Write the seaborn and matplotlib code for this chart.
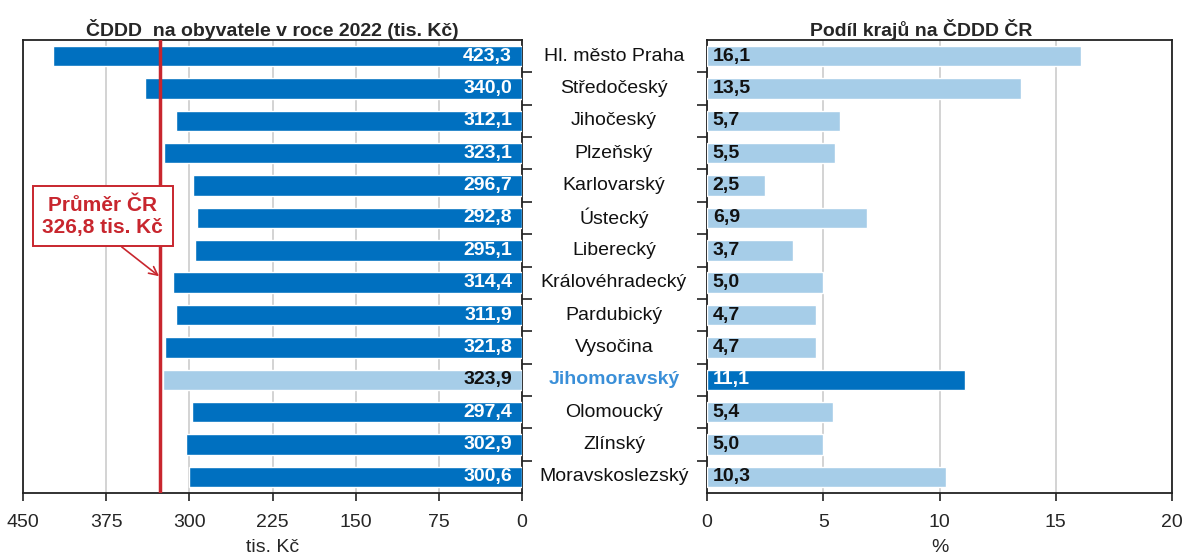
import matplotlib
matplotlib.use("Agg")
import matplotlib.pyplot as plt
import seaborn as sns
import pandas as pd

regions = ["Hl. město Praha", "Středočeský", "Jihočeský", "Plzeňský", "Karlovarský",
           "Ústecký", "Liberecký", "Královéhradecký", "Pardubický", "Vysočina",
           "Jihomoravský", "Olomoucký", "Zlínský", "Moravskoslezský"]
per_capita = [423.3, 340.0, 312.1, 323.1, 296.7, 292.8, 295.1, 314.4, 311.9, 321.8,
              323.9, 297.4, 302.9, 300.6]
share = [16.1, 13.5, 5.7, 5.5, 2.5, 6.9, 3.7, 5.0, 4.7, 4.7, 11.1, 5.4, 5.0, 10.3]
mean_cr = 326.8
highlight = "Jihomoravský"
left_ticks = [450, 375, 300, 225, 150, 75, 0]
right_ticks = [0, 5, 10, 15, 20]

DARK = "#0070C0"
LIGHT = "#A6CDE8"
RED = "#C8262E"

sns.set_theme(style="white")
plt.rcParams['font.family'] = ['Liberation Sans', 'DejaVu Sans']

df = pd.DataFrame({"region": regions, "per_capita": per_capita, "share": share})

fig = plt.figure(figsize=(11.88, 5.57), dpi=100)
axL = fig.add_axes([23/1188, 1-493/557, (522-23)/1188, 453/557])
axR = fig.add_axes([707/1188, 1-493/557, (1172-707)/1188, 453/557])

pal_left = {r: (LIGHT if r == highlight else DARK) for r in regions}
pal_right = {r: (DARK if r == highlight else LIGHT) for r in regions}

sns.barplot(data=df, x="per_capita", y="region", hue="region", palette=pal_left,
            orient="h", width=0.63, legend=False, ax=axL, zorder=3, saturation=1)
sns.barplot(data=df, x="share", y="region", hue="region", palette=pal_right,
            orient="h", width=0.63, legend=False, ax=axR, zorder=3, saturation=1)

for ax in (axL, axR):
    ax.set_ylabel("")
    for s in ax.spines.values():
        s.set_visible(True)
        s.set_color("#222222")
        s.set_linewidth(1.3)
    ax.grid(axis="x", color="#CCCCCC", linewidth=1.2, zorder=0)
    ax.set_axisbelow(True)
    ax.set_ylim(len(regions) - 0.5, -0.5)
    ax.tick_params(axis="x", direction="out", length=6, width=1.2, color="#222222",
                   labelsize=14, pad=9, bottom=True)

# Left axis
axL.set_xlim(450, 0)
axL.set_xticks(left_ticks)
axL.set_xticklabels([str(t) for t in left_ticks])
axL.set_xlabel("tis. Kč", fontsize=14, labelpad=6)
axL.yaxis.tick_right()
axL.set_yticks([i - 0.5 for i in range(1, len(regions))], minor=False)
axL.set_yticklabels([])
axL.tick_params(axis="y", direction="out", length=7, width=1.2, color="#222222", right=True, left=False)
axL.set_title("ČDDD  na obyvatele v roce 2022 (tis. Kč)", fontsize=14, fontweight="bold", pad=3)

# Right axis
axR.set_xlim(0, 20)
axR.set_xticks(right_ticks)
axR.set_xticklabels([str(t) for t in right_ticks])
axR.set_xlabel("%", fontsize=14, labelpad=6)
axR.set_yticks([i - 0.5 for i in range(1, len(regions))])
axR.set_yticklabels([])
axR.tick_params(axis="y", direction="out", length=7, width=1.2, color="#222222", left=True)
axR.set_title("Podíl krajů na ČDDD ČR", fontsize=14, fontweight="bold", pad=3, x=0.46)

# Value labels
for i, (v, s, r) in enumerate(zip(per_capita, share, regions)):
    axL.text(9, i, f"{v:.1f}".replace(".", ","), ha="right", va="center",
             color="#111111" if r == highlight else "white", fontsize=14,
             fontweight="bold", zorder=5)
    axR.text(0.25, i, f"{s:.1f}".replace(".", ","), ha="left", va="center",
             color="white" if r == highlight else "#111111", fontsize=14,
             fontweight="bold", zorder=5)

# Region names between axes
for i, r in enumerate(regions):
    x_fig = 614/1188
    y_disp = axL.transData.transform((0, i))[1]
    y_fig = fig.transFigure.inverted().transform((0, y_disp))[1]
    fig.text(x_fig, y_fig, r, ha="center", va="center", fontsize=14,
             color="#3A8FD8" if r == highlight else "#111111",
             fontweight="bold" if r == highlight else "normal")

# Mean line
axL.axvline(mean_cr, color=RED, linewidth=2.5, zorder=4)
axL.annotate("Průměr ČR\n326,8 tis. Kč", xy=(mean_cr + 0.5, 6.8), xytext=(378, 4.95),
             ha="center", va="center", fontsize=15, fontweight="bold", color=RED,
             linespacing=1.2,
             bbox=dict(boxstyle="square,pad=0.45", fc="white", ec=RED, lw=1.4),
             arrowprops=dict(arrowstyle="->", color=RED, lw=1.2,
                             shrinkA=0, shrinkB=0, relpos=(0.55, 0)),
             zorder=6)

fig.savefig("out.png", dpi=100)
